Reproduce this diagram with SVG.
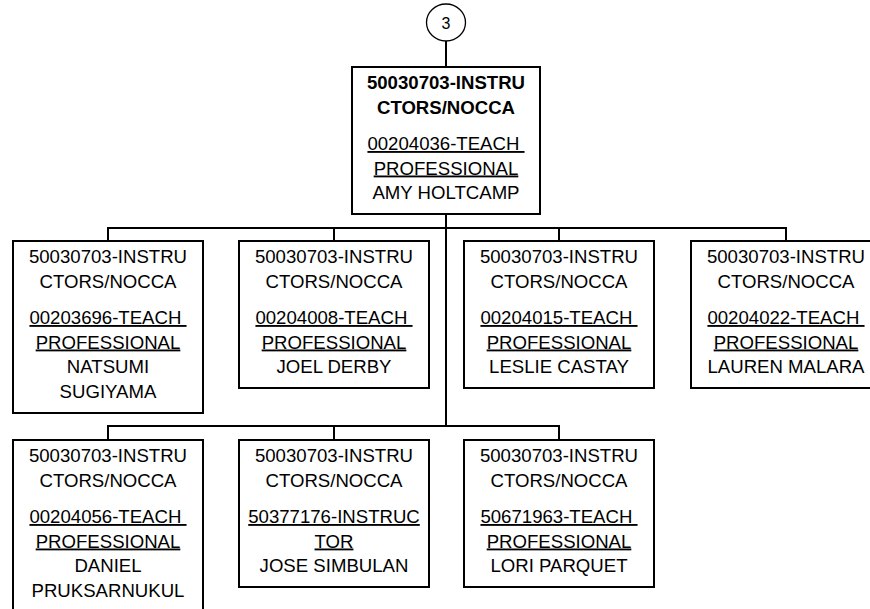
<svg xmlns="http://www.w3.org/2000/svg" width="870" height="609" viewBox="0 0 870 609">
<style>
  .box { fill: #fff; stroke: #000; stroke-width: 2; }
  .conn { fill: none; stroke: #000; stroke-width: 2; }
  text { font-family: "Liberation Sans", Arial, sans-serif; font-size: 18.6px; fill: #000; text-anchor: middle; white-space: pre; }
  .b { font-weight: bold; }
  .u { text-decoration: underline; }
  .num { font-size: 16px; }
</style>
<rect width="870" height="609" fill="#fff"/>
<g id="connectors">
  <path class="conn" d="M446 41 V67"/>
  <path class="conn" d="M446 214 V426"/>
  <path class="conn" d="M108 241 V228 H786 V241 M334 228 V241 M559 228 V241"/>
  <path class="conn" d="M108 440 V426 H559 V440 M334 426 V440"/>
</g>
<g id="offpage-3">
  <ellipse cx="446" cy="22.5" rx="19.5" ry="18.5" fill="#fff" stroke="#000" stroke-width="1.3"/>
  <text class="num" x="446" y="28.5">3</text>
</g>
<g id="root">
  <rect class="box" x="352" y="67" width="188" height="147"/>
  <text class="b" x="446" y="89">50030703-INSTRU</text>
  <text class="b" x="446" y="113.5">CTORS/NOCCA</text>
  <text class="u" x="446" y="150">00204036-TEACH </text>
  <text class="u" x="446" y="174.5">PROFESSIONAL</text>
  <text x="446" y="199">AMY HOLTCAMP</text>
</g>
<g id="n1">
  <rect class="box" x="13" y="241" width="190" height="172"/>
  <text x="108" y="263">50030703-INSTRU</text>
  <text x="108" y="287.5">CTORS/NOCCA</text>
  <text class="u" x="108" y="324">00203696-TEACH </text>
  <text class="u" x="108" y="348.5">PROFESSIONAL</text>
  <text x="108" y="373">NATSUMI</text>
  <text x="108" y="397.5">SUGIYAMA</text>
</g>
<g id="n2">
  <rect class="box" x="239" y="241" width="190" height="147"/>
  <text x="334" y="263">50030703-INSTRU</text>
  <text x="334" y="287.5">CTORS/NOCCA</text>
  <text class="u" x="334" y="324">00204008-TEACH </text>
  <text class="u" x="334" y="348.5">PROFESSIONAL</text>
  <text x="334" y="373">JOEL DERBY</text>
</g>
<g id="n3">
  <rect class="box" x="464" y="241" width="190" height="147"/>
  <text x="559" y="263">50030703-INSTRU</text>
  <text x="559" y="287.5">CTORS/NOCCA</text>
  <text class="u" x="559" y="324">00204015-TEACH </text>
  <text class="u" x="559" y="348.5">PROFESSIONAL</text>
  <text x="559" y="373">LESLIE CASTAY</text>
</g>
<g id="n4">
  <rect class="box" x="691" y="241" width="190" height="147"/>
  <text x="786" y="263">50030703-INSTRU</text>
  <text x="786" y="287.5">CTORS/NOCCA</text>
  <text class="u" x="786" y="324">00204022-TEACH </text>
  <text class="u" x="786" y="348.5">PROFESSIONAL</text>
  <text x="786" y="373">LAUREN MALARA</text>
</g>
<g id="n5">
  <rect class="box" x="13" y="440" width="190" height="172"/>
  <text x="108" y="462">50030703-INSTRU</text>
  <text x="108" y="486.5">CTORS/NOCCA</text>
  <text class="u" x="108" y="523">00204056-TEACH </text>
  <text class="u" x="108" y="547.5">PROFESSIONAL</text>
  <text x="108" y="572">DANIEL</text>
  <text x="108" y="596.5">PRUKSARNUKUL</text>
</g>
<g id="n6">
  <rect class="box" x="239" y="440" width="190" height="147"/>
  <text x="334" y="462">50030703-INSTRU</text>
  <text x="334" y="486.5">CTORS/NOCCA</text>
  <text class="u" x="334" y="523">50377176-INSTRUC</text>
  <text class="u" x="334" y="547.5">TOR</text>
  <text x="334" y="572">JOSE SIMBULAN</text>
</g>
<g id="n7">
  <rect class="box" x="464" y="440" width="190" height="147"/>
  <text x="559" y="462">50030703-INSTRU</text>
  <text x="559" y="486.5">CTORS/NOCCA</text>
  <text class="u" x="559" y="523">50671963-TEACH </text>
  <text class="u" x="559" y="547.5">PROFESSIONAL</text>
  <text x="559" y="572">LORI PARQUET</text>
</g>
</svg>
